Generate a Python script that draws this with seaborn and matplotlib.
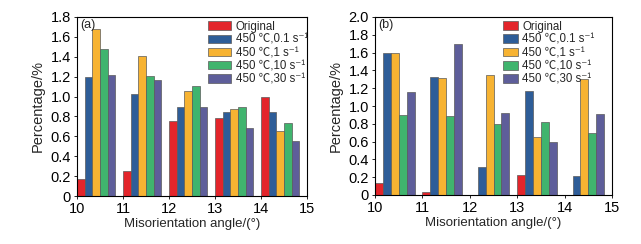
import numpy as np
import pandas as pd
import seaborn as sns
import matplotlib.pyplot as plt
from matplotlib.ticker import FixedLocator, FuncFormatter

# ---- data ----
angles = [10, 11, 12, 13, 14]
series = ["Original", "450 ℃,0.1 s⁻¹", "450 ℃,1 s⁻¹", "450 ℃,10 s⁻¹", "450 ℃,30 s⁻¹"]
colors = ["#E3252B", "#2E5D98", "#F7B332", "#40B46E", "#5E5E9A"]

a_original = [0.17, 0.25, 0.75, 0.78, 1.00]
a_s01 = [1.20, 1.03, 0.90, 0.845, 0.845]
a_s1 = [1.68, 1.405, 1.055, 0.87, 0.655]
a_s10 = [1.48, 1.21, 1.11, 0.90, 0.73]
a_s30 = [1.22, 1.165, 0.90, 0.68, 0.55]

b_original = [0.135, 0.03, 0.005, 0.22, 0.005]
b_s01 = [1.60, 1.325, 0.31, 1.17, 0.21]
b_s1 = [1.595, 1.32, 1.345, 0.655, 1.305]
b_s10 = [0.90, 0.89, 0.795, 0.82, 0.70]
b_s30 = [1.155, 1.70, 0.92, 0.59, 0.91]

panel_labels = ["(a)", "(b)"]
xlabel = "Misorientation angle/(°)"
ylabel = "Percentage/%"
ymax = [1.8, 2.0]


def long_frame(vals):
    rows = []
    for s, v in zip(series, vals):
        for ang, y in zip(angles, v):
            rows.append({"angle": ang, "series": s, "value": y})
    return pd.DataFrame(rows)


sns.set_theme(style="white")
plt.rcParams["font.family"] = ["Liberation Sans", "Noto Sans CJK SC", "DejaVu Sans"]

fig = plt.figure(figsize=(6.41, 2.44), dpi=100)
ax_a = fig.add_axes([77 / 641, 1 - 196 / 244, 230 / 641, 179 / 244])
ax_b = fig.add_axes([375 / 641, 1 - 195 / 244, 237 / 641, 178 / 244])

group_w = 5 / 6
datasets = [
    [a_original, a_s01, a_s1, a_s10, a_s30],
    [b_original, b_s01, b_s1, b_s10, b_s30],
]
legend_kw = [
    dict(loc="upper left", bbox_to_anchor=(0.55, 1.005), handlelength=2.0, handleheight=0.75),
    dict(loc="upper left", bbox_to_anchor=(0.52, 1.005), handlelength=1.3, handleheight=0.8),
]

for i, (ax, vals) in enumerate(zip([ax_a, ax_b], datasets)):
    df = long_frame(vals)
    # bars of each angle bin start at the bin's lower edge
    df["pos"] = df["angle"] + group_w / 2
    sns.barplot(data=df, x="pos", y="value", hue="series", hue_order=series,
                palette=colors, native_scale=True, width=group_w, dodge=True,
                gap=0, errorbar=None, edgecolor="#5a5a5a", linewidth=0.5,
                saturation=1, ax=ax)
    ax.set_xlim(10, 15)
    ax.set_ylim(0, ymax[i])
    ax.xaxis.set_major_locator(FixedLocator(range(10, 16)))
    ax.yaxis.set_major_locator(FixedLocator(np.round(np.arange(0, ymax[i] + 0.01, 0.2), 1)))
    ax.yaxis.set_major_formatter(FuncFormatter(lambda v, p: "0" if abs(v) < 1e-9 else f"{v:.1f}"))
    ax.xaxis.set_major_formatter(FuncFormatter(lambda v, p: f"{int(round(v))}"))
    ax.tick_params(axis="both", labelsize=10.5, direction="out", length=2.5, width=0.6,
                   pad=2, colors="black", bottom=True, left=True)
    ax.set_xlabel(xlabel, fontsize=9.5, labelpad=1)
    ax.set_ylabel(ylabel, fontsize=10.5, labelpad=4)
    for sp in ax.spines.values():
        sp.set_color("black")
        sp.set_linewidth(0.8)
    ax.text(0.012, 0.99, panel_labels[i], transform=ax.transAxes, ha="left", va="top",
            fontsize=9)
    ax.legend(frameon=False, fontsize=8.3, labelspacing=0.1, handletextpad=0.4,
              borderpad=0.2, borderaxespad=0.2, **legend_kw[i])

fig.savefig("out.png", dpi=100)
